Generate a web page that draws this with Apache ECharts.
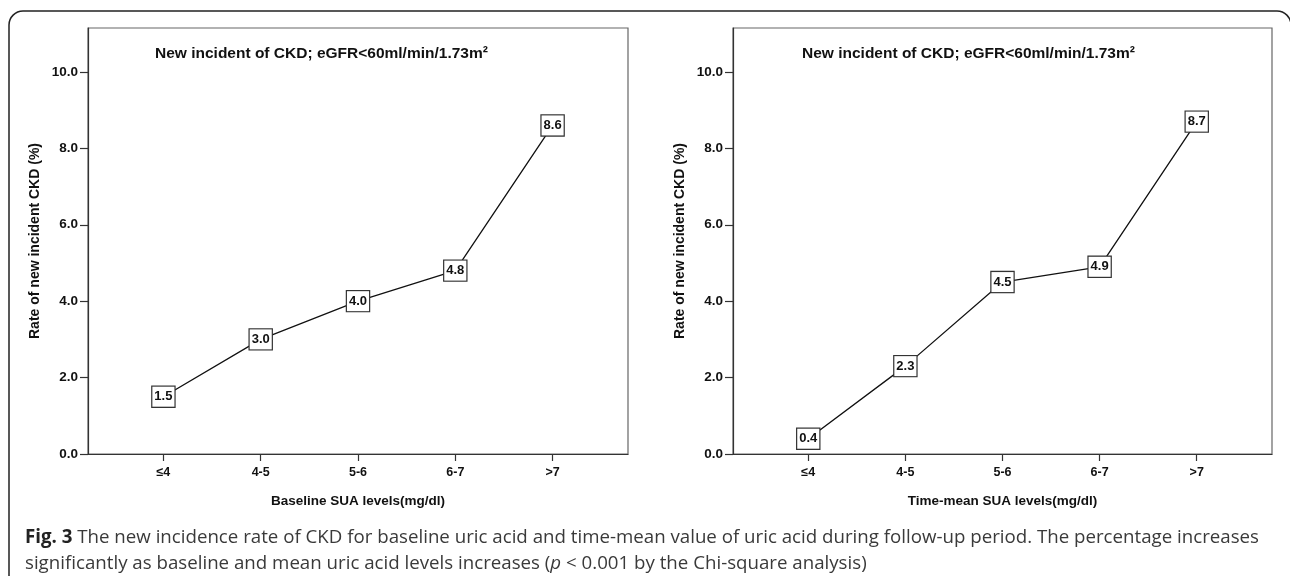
<!DOCTYPE html>
<html>
<head>
<meta charset="utf-8">
<script src="https://cdn.jsdelivr.net/npm/echarts@6/dist/echarts.min.js"></script>
<style>
html,body{margin:0;padding:0;background:#fff;}
#chart{width:1290px;height:576px;}
</style>
</head>
<body>
<div id="chart"></div>
<script>
const categories = ['≤4', '4-5', '5-6', '6-7', '>7'];
const baselineRates = [1.5, 3.0, 4.0, 4.8, 8.6];
const timeMeanRates = [0.4, 2.3, 4.5, 4.9, 8.7];
const yTickValues = [0, 2, 4, 6, 8, 10];
const panelTitle = 'New incident of CKD; eGFR<60ml/min/1.73m²';
const yAxisTitle = 'Rate of new incident CKD (%)';
const xAxisTitles = ['Baseline SUA levels(mg/dl)', 'Time-mean SUA levels(mg/dl)'];
const captionLine1 = 'The new incidence rate of CKD for baseline uric acid and time-mean value of uric acid during follow-up period. The percentage increases';
const captionLine2a = 'significantly as baseline and mean uric acid levels increases (';
const captionLine2b = ' < 0.001 by the Chi-square analysis)';

const chart = echarts.init(document.getElementById('chart'));
const FONT = 'Liberation Sans, Arial, sans-serif';
const CAP_FONT = 'Open Sans';
const CAP_SIZE = 18.7;
const catIdx = categories.map((c, i) => i);

function xAxisFor(gi, name) {
  return {
    type: 'value', gridIndex: gi, min: -0.775, max: 4.775,
    name: name, nameLocation: 'middle', nameGap: 40,
    nameTextStyle: { fontFamily: FONT, fontWeight: 'bold', fontSize: 13.5, color: '#111' },
    axisLine: { show: true, onZero: false, lineStyle: { color: '#333', width: 1.2 } },
    axisTick: { show: true, inside: false, length: 7, customValues: catIdx, lineStyle: { color: '#333', width: 1.2 } },
    axisLabel: { show: true, customValues: catIdx, margin: 12, formatter: v => categories[Math.round(v)],
      fontFamily: FONT, fontWeight: 'bold', fontSize: 12.5, color: '#111' },
    splitLine: { show: false }
  };
}
function yAxisFor(gi) {
  return {
    type: 'value', gridIndex: gi, min: 0, max: 11.15,
    name: yAxisTitle, nameLocation: 'middle', nameGap: 46, nameRotate: 90,
    nameTextStyle: { fontFamily: FONT, fontWeight: 'bold', fontSize: 14, color: '#111' },
    axisLine: { show: true, onZero: false, lineStyle: { color: '#333', width: 1.2 } },
    axisTick: { show: true, inside: false, length: 8, customValues: yTickValues, lineStyle: { color: '#333', width: 1.2 } },
    axisLabel: { show: true, customValues: yTickValues, margin: 10, formatter: v => v.toFixed(1),
      fontFamily: FONT, fontWeight: 'bold', fontSize: 13.5, color: '#111' },
    splitLine: { show: false }
  };
}
function seriesFor(gi, values) {
  return {
    type: 'line', xAxisIndex: gi, yAxisIndex: gi,
    data: values.map((v, i) => [i, v]),
    symbol: 'rect', symbolSize: 1,
    itemStyle: { color: 'rgba(0,0,0,0)' },
    lineStyle: { color: '#111', width: 1.3 },
    label: {
      show: true, position: 'inside', formatter: p => p.value[1].toFixed(1),
      backgroundColor: '#fff', borderColor: '#333', borderWidth: 1.2,
      padding: [4, 2, 3, 2], fontFamily: FONT, fontWeight: 'bold', fontSize: 13, color: '#111'
    },
    emphasis: { disabled: true },
    z: 3
  };
}

chart.setOption({
  animation: false,
  backgroundColor: '#fff',
  grid: [
    { left: 88, top: 28, width: 540, height: 426, show: true, borderColor: '#666', borderWidth: 1.2, containLabel: false },
    { left: 733, top: 28, width: 539, height: 426, show: true, borderColor: '#666', borderWidth: 1.2, containLabel: false }
  ],
  title: [
    { text: panelTitle, left: 155, top: 46, padding: 0, textStyle: { fontFamily: FONT, fontWeight: 'bold', fontSize: 15.5, color: '#111' } },
    { text: panelTitle, left: 802, top: 46, padding: 0, textStyle: { fontFamily: FONT, fontWeight: 'bold', fontSize: 15.5, color: '#111' } },
    { text: '{b|Fig. 3} ' + captionLine1, left: 20, top: 523,
      textStyle: { fontFamily: CAP_FONT, fontWeight: 'normal', fontSize: CAP_SIZE, color: '#3a3a3a',
        rich: { b: { fontFamily: CAP_FONT, fontWeight: 'bold', fontSize: CAP_SIZE, color: '#222' } } } },
    { text: captionLine2a + '{i|p}' + captionLine2b, left: 20, top: 549,
      textStyle: { fontFamily: CAP_FONT, fontWeight: 'normal', fontSize: CAP_SIZE, color: '#3a3a3a',
        rich: { i: { fontFamily: CAP_FONT, fontStyle: 'italic', fontWeight: 'normal', fontSize: CAP_SIZE, color: '#3a3a3a' } } } }
  ],
  xAxis: [xAxisFor(0, xAxisTitles[0]), xAxisFor(1, xAxisTitles[1])],
  yAxis: [yAxisFor(0), yAxisFor(1)],
  series: [seriesFor(0, baselineRates), seriesFor(1, timeMeanRates)],
  graphic: [
    { type: 'rect', shape: { x: 9, y: 11, width: 1282, height: 620, r: 14 }, style: { fill: 'none', stroke: '#222', lineWidth: 1.5 }, silent: true, z: -1 }
  ]
});
</script>
</body>
</html>
